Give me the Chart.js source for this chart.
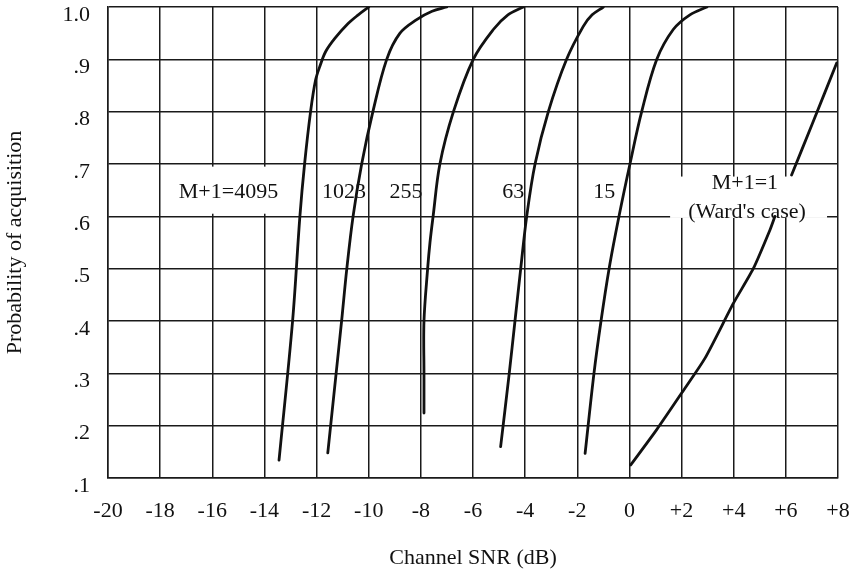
<!DOCTYPE html>
<html><head><meta charset="utf-8">
<script src="https://cdn.jsdelivr.net/npm/chart.js@4.4.0/dist/chart.umd.min.js"></script>
<style>html,body{margin:0;padding:0;background:#fff}</style>
</head><body>
<canvas id="c" width="855" height="572"></canvas>
<script>
// ---- tick values / labels ----
const xTickValues = [-20,-18,-16,-14,-12,-10,-8,-6,-4,-2,0,2,4,6,8];
const xTickLabels = ['-20','-18','-16','-14','-12','-10','-8','-6','-4','-2','0','+2','+4','+6','+8'];
const yTickValues = [0.1,0.2,0.3,0.4,0.5,0.6,0.7,0.8,0.9,1.0];
const yTickLabels = ['.1','.2','.3','.4','.5','.6','.7','.8','.9','1.0'];

// ---- series (Channel SNR dB, probability of acquisition) ----
const snr4095 = [-13.44,-12.92,-12.64,-12.46,-12.23,-12.04,-11.85,-11.65,-11.3,-10.8,-10.4,-10.0];
const pa4095  = [0.134,0.40,0.60,0.70,0.80,0.86,0.89,0.915,0.94,0.968,0.985,1.0];
const snr1023 = [-11.57,-11.25,-11.04,-10.84,-10.60,-10.27,-9.84,-9.31,-8.80,-8.16,-7.57,-7.01];
const pa1023  = [0.148,0.30,0.40,0.50,0.60,0.70,0.80,0.90,0.95,0.976,0.992,1.0];
const snr255  = [-7.88,-7.88,-7.88,-7.74,-7.65,-7.53,-7.27,-6.75,-5.99,-5.22,-4.66,-4.07];
const pa255   = [0.224,0.30,0.40,0.50,0.55,0.60,0.70,0.80,0.90,0.957,0.985,1.0];
const snr63   = [-4.94,-4.61,-4.39,-4.17,-3.94,-3.62,-3.11,-2.41,-1.77,-1.43,-1.0];
const pa63    = [0.16,0.30,0.40,0.50,0.60,0.70,0.80,0.90,0.963,0.985,1.0];
const snr15   = [-1.70,-1.36,-1.09,-0.78,-0.40,0.02,0.47,1.05,1.68,2.32,2.97];
const pa15    = [0.147,0.30,0.40,0.50,0.60,0.70,0.80,0.90,0.957,0.985,1.0];
const snr1    = [0.05,1.04,2.04,2.90,3.99,4.75,5.39,5.58,null,6.22,7.0,7.95];
const pa1     = [0.125,0.192,0.265,0.329,0.434,0.50,0.574,0.60,null,0.679,0.775,0.893];

// ---- in-plot labels (data units) ----
const labelTexts = ['M+1=4095','1023','255','63','15','M+1=1',"(Ward's case)"];
const labelX     = [-15.38,-10.95,-8.57,-4.46,-0.97,4.43,4.51];
const labelY     = [0.647,0.647,0.647,0.647,0.647,0.664,0.607];
// white boxes behind labels [x0,x1,y0,y1] in data units
const boxX0 = [-17.7, 1.56];
const boxX1 = [-12.87, 7.58];
const boxY0 = [0.605, 0.597];
const boxY1 = [0.695, 0.676];

function pts(xs, ys){ return xs.map((x,i)=> (x===null? {x:null,y:null} : {x:x, y:ys[i]})); }

const FONT = 'Liberation Serif';
Chart.defaults.font.family = FONT;
Chart.defaults.font.size = 22;
Chart.defaults.color = '#111';

const bgPlugin = {
  id:'bg',
  beforeDraw(chart){ const c=chart.ctx; c.save(); c.fillStyle='#fff'; c.fillRect(0,0,chart.width,chart.height); c.restore(); }
};
const labelPlugin = {
  id:'labels',
  beforeDatasetsDraw(chart){
    const c = chart.ctx, xs = chart.scales.x, ys = chart.scales.y;
    c.save();
    c.fillStyle = '#fff';
    for (let i=0;i<boxX0.length;i++){
      const l = xs.getPixelForValue(boxX0[i]), r = xs.getPixelForValue(boxX1[i]);
      const t = ys.getPixelForValue(boxY1[i]), b = ys.getPixelForValue(boxY0[i]);
      c.fillRect(l,t,r-l,b-t);
    }
    c.fillStyle = '#111';
    c.font = '22px "' + FONT + '"';
    c.textAlign = 'center'; c.textBaseline = 'middle';
    for (let i=0;i<labelTexts.length;i++){
      c.fillText(labelTexts[i], xs.getPixelForValue(labelX[i]), ys.getPixelForValue(labelY[i]));
    }
    c.restore();
  }
};

const series = [
  {name:'M+1=4095', x:snr4095, y:pa4095, t:0.35},
  {name:'1023', x:snr1023, y:pa1023, t:0.35},
  {name:'255', x:snr255, y:pa255, t:0.35},
  {name:'63', x:snr63, y:pa63, t:0.35},
  {name:'15', x:snr15, y:pa15, t:0.35},
  {name:'M+1=1', x:snr1, y:pa1, t:0.2}
];

new Chart(document.getElementById('c'), {
  type:'scatter',
  data:{ datasets: series.map(s=>({
    label:s.name, data:pts(s.x,s.y), showLine:true, spanGaps:false,
    borderColor:'#111', borderWidth:2.8, pointRadius:0, tension:s.t, fill:false,
    borderCapStyle:'round', borderJoinStyle:'round'
  }))},
  options:{
    responsive:false, animation:false,
    layout:{ padding:{ top:7, right:17, left:0, bottom:0 } },
    plugins:{ legend:{display:false}, tooltip:{enabled:false} },
    scales:{
      x:{
        type:'linear', min:-20, max:8,
        afterBuildTicks(s){ s.ticks = xTickValues.map(v=>({value:v})); },
        afterFit(s){ s.height = 94; s.paddingLeft = 0; s.paddingRight = 0; },
        ticks:{ padding:20, autoSkip:false, maxRotation:0, callback:(v,i)=>xTickLabels[i] },
        grid:{ color:'#1a1a1a', lineWidth:1.5, drawTicks:false },
        border:{ display:true, color:'#1a1a1a', width:1.5 },
        title:{ display:true, text:'Channel SNR (dB)', padding:{top:0,bottom:1}, font:{size:22} }
      },
      y:{
        type:'linear', min:0.1, max:1.0,
        afterBuildTicks(s){ s.ticks = yTickValues.map(v=>({value:v})); },
        afterFit(s){ s.width = 108; s.paddingTop = 0; s.paddingBottom = 0; },
        ticks:{ padding:18, labelOffset:8, autoSkip:false, callback:(v,i)=>yTickLabels[i] },
        grid:{ color:'#1a1a1a', lineWidth:1.5, drawTicks:false },
        border:{ display:true, color:'#1a1a1a', width:1.5 },
        title:{ display:true, text:'Probability of acquisition', padding:{top:2,bottom:0}, font:{size:22} }
      }
    }
  },
  plugins:[bgPlugin, labelPlugin]
});
</script>
</body></html>
